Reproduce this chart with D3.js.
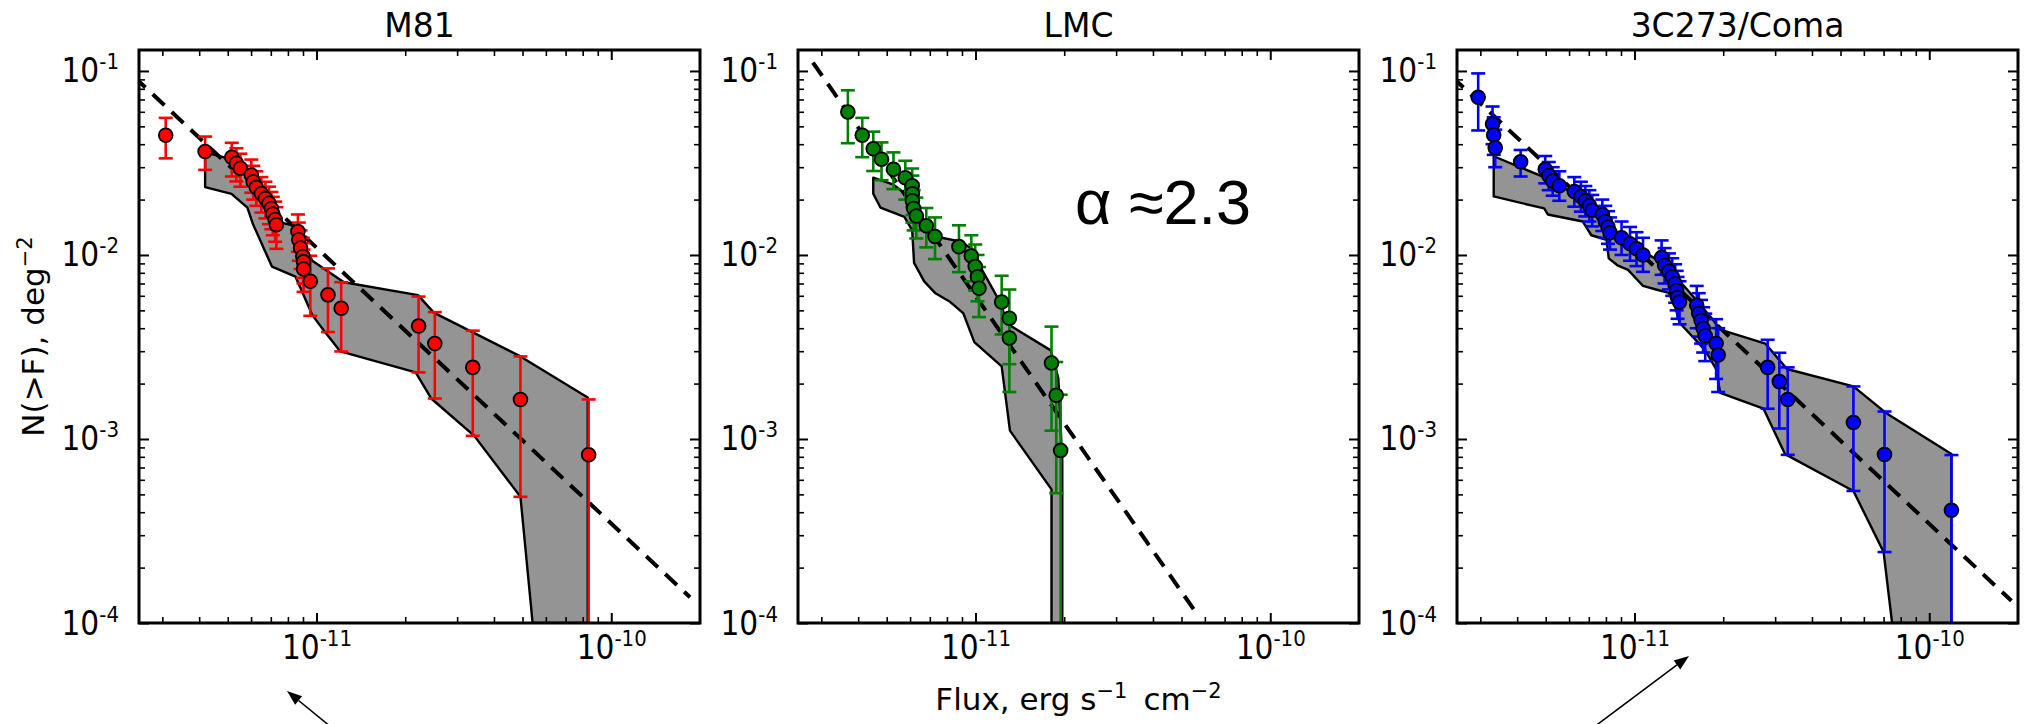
<!DOCTYPE html>
<html>
<head>
<meta charset="utf-8">
<script src="https://cdn.jsdelivr.net/npm/d3@7"></script>
<style>
  html, body { margin: 0; padding: 0; background: #fff; }
  svg { display: block; }
  text { font-family: "DejaVu Sans", sans-serif; fill: #000; }
  .tick text { font-family: "DejaVu Sans Condensed", "DejaVu Sans", sans-serif; }
</style>
</head>
<body>
<svg id="chart" width="2031" height="724"></svg>
<script>
// ---------------- data ----------------
const titles = ["M81", "LMC", "3C273/Coma"];
const colors = ["#ff0000", "#008000", "#0000ff"];
const xLabel = "Flux, erg s";
const yLabel = "N(>F), deg";
const slopeNote = "\u03b1 \u22482.3";

// M81: cumulative counts with 1-sigma bounds
const fluxM81 = [3.08e-12, 4.19e-12, 5.16e-12, 5.35e-12, 5.52e-12, 6.01e-12, 6.10e-12, 6.25e-12, 6.50e-12, 6.71e-12,
  6.90e-12, 7.03e-12, 7.11e-12, 7.24e-12, 7.31e-12, 8.65e-12, 8.71e-12, 8.83e-12, 8.99e-12, 9.04e-12,
  9.04e-12, 9.53e-12, 1.094e-11, 1.213e-11, 2.22e-11, 2.52e-11, 3.39e-11, 4.92e-11, 8.38e-11];
const nM81 = [4.47e-2, 3.65e-2, 3.40e-2, 3.15e-2, 2.96e-2, 2.72e-2, 2.50e-2, 2.33e-2, 2.16e-2, 2.03e-2,
  1.91e-2, 1.79e-2, 1.67e-2, 1.56e-2, 1.46e-2, 1.34e-2, 1.21e-2, 1.09e-2, 9.8e-3, 9.2e-3,
  8.4e-3, 7.2e-3, 6.07e-3, 5.13e-3, 4.11e-3, 3.30e-3, 2.45e-3, 1.64e-3, 8.2e-4];
const nM81Hi = [5.56e-2, 4.40e-2, 4.07e-2, 3.80e-2, 3.55e-2, 3.30e-2, 3.05e-2, 2.85e-2, 2.65e-2, 2.50e-2,
  2.35e-2, 2.20e-2, 2.07e-2, 1.95e-2, 1.82e-2, 1.66e-2, 1.50e-2, 1.36e-2, 1.24e-2, 1.16e-2,
  1.07e-2, 9.9e-3, 8.45e-3, 7.11e-3, 5.94e-3, 4.89e-3, 3.88e-3, 2.81e-3, 1.64e-3];
const nM81Lo = [3.35e-2, 2.90e-2, 2.67e-2, 2.51e-2, 2.35e-2, 2.18e-2, 2.00e-2, 1.85e-2, 1.70e-2, 1.58e-2,
  1.47e-2, 1.38e-2, 1.28e-2, 1.18e-2, 1.08e-2, 1.04e-2, 9.3e-3, 8.4e-3, 7.5e-3, 7.0e-3,
  6.3e-3, 4.67e-3, 3.81e-3, 2.99e-3, 2.30e-3, 1.66e-3, 1.04e-3, 4.85e-4, 0];
const bandM81UpFlux = [4.19e-12, 5.15e-12, 5.93e-12, 6.59e-12, 7.33e-12, 8.43e-12, 9.68e-12, 1.239e-11, 2.21e-11, 2.50e-11, 4.92e-11, 8.32e-11, 8.32e-11];
const bandM81UpN = [3.61e-2, 3.31e-2, 2.79e-2, 2.15e-2, 1.52e-2, 1.44e-2, 9.31e-3, 7.11e-3, 6.05e-3, 4.86e-3, 2.81e-3, 1.68e-3, 1.0e-4];
const bandM81LoFlux = [4.19e-12, 5.15e-12, 5.83e-12, 6.08e-12, 7.06e-12, 8.49e-12, 9.68e-12, 1.040e-11, 1.205e-11, 2.17e-11, 2.45e-11, 3.43e-11, 4.92e-11, 5.41e-11];
const bandM81LoN = [2.34e-2, 2.15e-2, 1.81e-2, 1.48e-2, 8.65e-3, 7.62e-3, 4.72e-3, 4.04e-3, 2.99e-3, 2.30e-3, 1.66e-3, 1.04e-3, 4.85e-4, 1.0e-4];
const lineM81Flux = [2.4e-12, 1.85e-10];
const lineM81N = [9.33e-2, 1.38e-4];

// LMC
const fluxLMC = [3.69e-12, 4.13e-12, 4.50e-12, 4.80e-12, 5.27e-12, 5.78e-12, 6.10e-12, 6.11e-12, 6.11e-12, 6.17e-12,
  6.30e-12, 6.81e-12, 7.29e-12, 8.79e-12, 9.68e-12, 9.98e-12, 1.016e-11, 1.028e-11, 1.227e-11, 1.303e-11,
  1.303e-11, 1.811e-11, 1.879e-11, 1.945e-11];
const nLMC = [5.98e-2, 4.47e-2, 3.78e-2, 3.31e-2, 2.92e-2, 2.63e-2, 2.38e-2, 2.15e-2, 1.97e-2, 1.79e-2,
  1.63e-2, 1.44e-2, 1.26e-2, 1.11e-2, 9.86e-3, 8.65e-3, 7.62e-3, 6.59e-3, 5.55e-3, 4.53e-3,
  3.54e-3, 2.59e-3, 1.73e-3, 8.67e-4];
const nLMCHi = [7.85e-2, 5.56e-2, 4.68e-2, 4.09e-2, 3.61e-2, 3.25e-2, 2.95e-2, 2.70e-2, 2.45e-2, 2.25e-2,
  2.05e-2, 1.80e-2, 1.60e-2, 1.45e-2, 1.28e-2, 1.14e-2, 1.00e-2, 8.6e-3, 7.71e-3, 6.49e-3,
  4.67e-3, 4.08e-3, 2.62e-3, 1.74e-3];
const nLMCLo = [4.05e-2, 3.40e-2, 2.86e-2, 2.55e-2, 2.28e-2, 2.00e-2, 1.82e-2, 1.65e-2, 1.50e-2, 1.36e-2,
  1.23e-2, 1.10e-2, 9.5e-3, 8.07e-3, 7.19e-3, 6.4e-3, 5.6e-3, 4.6e-3, 3.7e-3, 2.55e-3,
  1.80e-3, 1.11e-3, 5.08e-4, 0];
const bandLMCUpFlux = [4.50e-12, 5.27e-12, 5.78e-12, 6.25e-12, 7.29e-12, 8.79e-12, 9.75e-12, 1.042e-11, 1.175e-11, 1.303e-11, 1.80e-11, 1.91e-11, 1.97e-11, 1.97e-11];
const bandLMCUpN = [2.63e-2, 2.41e-2, 2.15e-2, 1.61e-2, 1.26e-2, 1.19e-2, 1.08e-2, 8.55e-3, 6.05e-3, 4.16e-3, 3.03e-3, 2.14e-3, 7.60e-4, 1.0e-4];
const bandLMCLoFlux = [4.50e-12, 4.76e-12, 5.74e-12, 6.10e-12, 6.19e-12, 6.70e-12, 7.29e-12, 8.22e-12, 9.10e-12, 9.91e-12, 1.227e-11, 1.309e-11, 1.811e-11, 1.811e-11];
const bandLMCLoN = [2.15e-2, 1.81e-2, 1.61e-2, 1.36e-2, 9.06e-3, 7.19e-3, 6.22e-3, 5.55e-3, 4.81e-3, 3.36e-3, 2.48e-3, 1.11e-3, 5.32e-4, 1.0e-4];
const lineLMCFlux = [2.81e-12, 5.64e-11];
const lineLMCN = [1.11e-1, 1.12e-4];

// 3C273/Coma
const fluxComa = [2.95e-12, 3.30e-12, 3.33e-12, 3.37e-12, 4.11e-12, 4.98e-12, 5.12e-12, 5.28e-12, 5.56e-12, 6.25e-12,
  6.58e-12, 6.81e-12, 7.03e-12, 7.19e-12, 7.78e-12, 7.96e-12, 8.13e-12, 8.26e-12, 9.04e-12, 9.66e-12,
  1.016e-11, 1.069e-11, 1.236e-11, 1.265e-11, 1.309e-11, 1.343e-11, 1.374e-11, 1.390e-11, 1.400e-11, 1.422e-11,
  1.626e-11, 1.652e-11, 1.683e-11, 1.710e-11, 1.738e-11, 1.892e-11, 1.923e-11, 2.83e-11, 3.10e-11, 3.31e-11,
  5.53e-11, 7.05e-11, 1.189e-10];
const nComa = [7.19e-2, 5.15e-2, 4.49e-2, 3.82e-2, 3.21e-2, 2.92e-2, 2.70e-2, 2.52e-2, 2.38e-2, 2.21e-2,
  2.08e-2, 1.97e-2, 1.86e-2, 1.75e-2, 1.66e-2, 1.52e-2, 1.42e-2, 1.32e-2, 1.24e-2, 1.15e-2,
  1.08e-2, 1.00e-2, 9.7e-3, 8.79e-3, 8.17e-3, 7.62e-3, 6.98e-3, 6.41e-3, 5.87e-3, 5.55e-3,
  5.33e-3, 4.81e-3, 4.41e-3, 3.99e-3, 3.64e-3, 3.30e-3, 2.86e-3, 2.45e-3, 2.05e-3, 1.64e-3,
  1.23e-3, 8.24e-4, 4.10e-4];
const nComaHi = [9.70e-2, 6.41e-2, 5.6e-2, 4.8e-2, 3.72e-2, 3.45e-2, 3.2e-2, 3.0e-2, 2.85e-2, 2.65e-2,
  2.5e-2, 2.37e-2, 2.25e-2, 2.12e-2, 2.0e-2, 1.85e-2, 1.73e-2, 1.6e-2, 1.52e-2, 1.42e-2,
  1.33e-2, 1.24e-2, 1.2e-2, 1.09e-2, 1.02e-2, 9.6e-3, 8.9e-3, 8.2e-3, 7.6e-3, 7.2e-3,
  6.79e-3, 6.2e-3, 5.7e-3, 5.2e-3, 4.8e-3, 4.48e-3, 4.0e-3, 3.46e-3, 2.94e-3, 2.45e-3,
  1.93e-3, 1.41e-3, 8.18e-4];
const nComaLo = [4.75e-2, 4.0e-2, 3.5e-2, 3.0e-2, 2.67e-2, 2.45e-2, 2.25e-2, 2.1e-2, 1.97e-2, 1.83e-2,
  1.72e-2, 1.62e-2, 1.52e-2, 1.43e-2, 1.35e-2, 1.24e-2, 1.15e-2, 1.07e-2, 1.0e-2, 9.3e-3,
  8.7e-3, 8.1e-3, 7.8e-3, 7.0e-3, 6.5e-3, 6.0e-3, 5.5e-3, 5.0e-3, 4.5e-3, 4.2e-3,
  4.0e-3, 3.6e-3, 3.3e-3, 2.95e-3, 2.65e-3, 2.12e-3, 1.80e-3, 1.46e-3, 1.14e-3, 8.2e-4,
  5.22e-4, 2.43e-4, 0];
const bandComaUpFlux = [3.33e-12, 4.98e-12, 6.25e-12, 7.28e-12, 8.13e-12, 8.75e-12, 1.069e-11, 1.245e-11, 1.496e-11, 1.828e-11, 1.954e-11, 2.78e-11, 3.29e-11, 5.53e-11, 7.11e-11, 1.189e-10, 1.189e-10];
const bandComaUpN = [3.44e-2, 2.63e-2, 2.15e-2, 1.75e-2, 1.61e-2, 1.17e-2, 1.045e-2, 9.06e-3, 6.59e-3, 4.53e-3, 3.93e-3, 3.30e-3, 2.40e-3, 1.93e-3, 1.39e-3, 8.28e-4, 1.0e-4];
const bandComaLoFlux = [3.33e-12, 4.94e-12, 5.08e-12, 6.68e-12, 7.14e-12, 8.04e-12, 8.18e-12, 8.75e-12, 9.51e-12, 1.016e-11, 1.069e-11, 1.183e-11, 1.309e-11, 1.374e-11, 1.422e-11, 1.574e-11, 1.738e-11, 1.892e-11, 1.954e-11, 2.74e-11, 3.24e-11, 5.53e-11, 7.00e-11, 7.48e-11];
const bandComaLoN = [2.08e-2, 1.79e-2, 1.66e-2, 1.52e-2, 1.28e-2, 1.21e-2, 9.59e-3, 8.79e-3, 8.30e-3, 7.40e-3, 6.79e-3, 6.49e-3, 6.22e-3, 5.24e-3, 4.28e-3, 3.60e-3, 3.03e-3, 2.40e-3, 1.78e-3, 1.46e-3, 8.28e-4, 5.22e-4, 2.43e-4, 1.0e-4];
const lineComaFlux = [2.4e-12, 1.9e-10];
const lineComaN = [9.33e-2, 1.32e-4];

// shared axis limits
const xDomain = [2.5e-12, 2e-10];
const yDomain = [1e-4, 0.13];

// ---------------- layout ----------------
const panelLeft = [139, 798, 1457];
const panelW = 561;
const plotTop = 50, plotBottom = 623;
const bandFill = "#949494";

const panels = [
  { title: titles[0], color: colors[0], flux: fluxM81, n: nM81, hi: nM81Hi, lo: nM81Lo,
    upF: bandM81UpFlux, upN: bandM81UpN, loF: bandM81LoFlux, loN: bandM81LoN, lf: lineM81Flux, ln: lineM81N },
  { title: titles[1], color: colors[1], flux: fluxLMC, n: nLMC, hi: nLMCHi, lo: nLMCLo,
    upF: bandLMCUpFlux, upN: bandLMCUpN, loF: bandLMCLoFlux, loN: bandLMCLoN, lf: lineLMCFlux, ln: lineLMCN },
  { title: titles[2], color: colors[2], flux: fluxComa, n: nComa, hi: nComaHi, lo: nComaLo,
    upF: bandComaUpFlux, upN: bandComaUpN, loF: bandComaLoFlux, loN: bandComaLoN, lf: lineComaFlux, ln: lineComaN }
];

const svg = d3.select("#chart");
const defs = svg.append("defs");

const isMajor = v => Math.abs(Math.log10(v) - Math.round(Math.log10(v))) < 1e-6;

// "10" with a raised exponent
function powerLabel(text, v, supDy, supSize) {
  const e = Math.round(Math.log10(v));
  text.text(null);
  text.append("tspan").text("10");
  text.append("tspan").attr("dy", supDy).attr("font-size", supSize).text(String(e));
}

function styleAxis(g, width) {
  g.attr("font-family", null).attr("font-size", null);
  g.select(".domain").remove();
  g.selectAll(".tick line").attr("stroke", "#000").attr("stroke-width", width);
}

panels.forEach((p, i) => {
  const left = panelLeft[i];
  const x = d3.scaleLog().domain(xDomain).range([left, left + panelW]);
  const y = d3.scaleLog().domain(yDomain).range([plotBottom, plotTop]);

  const clipId = "clip" + i;
  defs.append("clipPath").attr("id", clipId)
    .append("rect").attr("x", left).attr("y", plotTop).attr("width", panelW).attr("height", plotBottom - plotTop);

  const g = svg.append("g");
  const plot = g.append("g").attr("clip-path", `url(#${clipId})`);

  // shaded band between the two bounding curves
  const upper = p.upF.map((f, k) => [f, p.upN[k]]);
  const lower = p.loF.map((f, k) => [f, p.loN[k]]);
  const poly = upper.concat(lower.slice().reverse());
  const line = d3.line().x(d => x(d[0])).y(d => y(d[1]));
  plot.append("path")
    .attr("d", line(poly) + "Z")
    .attr("fill", bandFill)
    .attr("stroke", "#000")
    .attr("stroke-width", 2.4)
    .attr("stroke-linejoin", "round");

  // power-law reference line
  plot.append("path")
    .attr("d", line(p.lf.map((f, k) => [f, p.ln[k]])))
    .attr("fill", "none")
    .attr("stroke", "#000")
    .attr("stroke-width", 4)
    .attr("stroke-dasharray", "16,10");

  // error bars
  const pts = p.flux.map((f, k) => ({ f, n: p.n[k], hi: p.hi[k], lo: p.lo[k] }));
  const eb = plot.append("g").attr("stroke", p.color).attr("stroke-width", 2.6);
  pts.forEach(d => {
    const xx = x(d.f);
    const yHi = y(d.hi);
    const yLo = d.lo > 0 ? y(d.lo) : plotBottom + 10;
    eb.append("line").attr("x1", xx).attr("x2", xx).attr("y1", yHi).attr("y2", yLo);
    eb.append("line").attr("x1", xx - 7).attr("x2", xx + 7).attr("y1", yHi).attr("y2", yHi);
    if (d.lo > 0) eb.append("line").attr("x1", xx - 7).attr("x2", xx + 7).attr("y1", yLo).attr("y2", yLo);
  });

  // markers
  plot.append("g").selectAll("circle").data(pts).join("circle")
    .attr("cx", d => x(d.f)).attr("cy", d => y(d.n)).attr("r", 6.9)
    .attr("fill", p.color).attr("stroke", "#000").attr("stroke-width", 1.8);

  // ticks on all four sides, pointing inward
  const xt = x.ticks(), yt = y.ticks();
  const xMaj = xt.filter(isMajor), xMin = xt.filter(v => !isMajor(v) && v > xDomain[0] && v < xDomain[1]);
  const yMaj = yt.filter(isMajor), yMin = yt.filter(v => !isMajor(v));

  const bottomAx = g.append("g").attr("transform", `translate(0,${plotBottom})`)
    .call(d3.axisBottom(x).tickValues(xMaj).tickSize(-10));
  styleAxis(bottomAx, 2);
  bottomAx.selectAll(".tick text")
    .attr("y", 36).attr("dy", 0).attr("font-size", 33)
    .each(function (v) { powerLabel(d3.select(this), v, -13, 22); });
  g.append("g").attr("transform", `translate(0,${plotBottom})`)
    .call(d3.axisBottom(x).tickValues(xMin).tickSize(-6).tickFormat(""))
    .call(s => styleAxis(s, 1.6));

  const topAx = g.append("g").attr("transform", `translate(0,${plotTop})`)
    .call(d3.axisTop(x).tickValues(xMaj).tickSize(-10).tickFormat(""));
  styleAxis(topAx, 2);
  g.append("g").attr("transform", `translate(0,${plotTop})`)
    .call(d3.axisTop(x).tickValues(xMin).tickSize(-6).tickFormat(""))
    .call(s => styleAxis(s, 1.6));

  const leftAx = g.append("g").attr("transform", `translate(${left},0)`)
    .call(d3.axisLeft(y).tickValues(yMaj).tickSize(-10));
  styleAxis(leftAx, 2);
  leftAx.selectAll(".tick text")
    .attr("x", -20).attr("dy", 11).attr("font-size", 33).attr("text-anchor", "end")
    .each(function (v) { powerLabel(d3.select(this), v, -13, 22); });
  g.append("g").attr("transform", `translate(${left},0)`)
    .call(d3.axisLeft(y).tickValues(yMin).tickSize(-6).tickFormat(""))
    .call(s => styleAxis(s, 1.6));

  const rightAx = g.append("g").attr("transform", `translate(${left + panelW},0)`)
    .call(d3.axisRight(y).tickValues(yMaj).tickSize(-10).tickFormat(""));
  styleAxis(rightAx, 2);
  g.append("g").attr("transform", `translate(${left + panelW},0)`)
    .call(d3.axisRight(y).tickValues(yMin).tickSize(-6).tickFormat(""))
    .call(s => styleAxis(s, 1.6));

  // frame
  g.append("rect")
    .attr("x", left).attr("y", plotTop)
    .attr("width", panelW).attr("height", plotBottom - plotTop)
    .attr("fill", "none").attr("stroke", "#000").attr("stroke-width", 3);

  // title
  g.append("text")
    .attr("x", left + panelW / 2).attr("y", 37)
    .attr("text-anchor", "middle").attr("font-size", 33)
    .text(p.title);
});

// slope annotation in the LMC panel
svg.append("text")
  .attr("x", 1075).attr("y", 224)
  .style("font-family", "'Liberation Sans', Arial, sans-serif")
  .attr("font-size", 63)
  .text(slopeNote);

// x-axis label under the middle panel
const xl = svg.append("text")
  .attr("x", panelLeft[1] + panelW / 2).attr("y", 710)
  .attr("text-anchor", "middle").attr("font-size", 31);
xl.append("tspan").text(xLabel);
xl.append("tspan").attr("dy", -12).attr("font-size", 21).text("\u22121");
xl.append("tspan").attr("dy", 12).text("\u2009 cm");
xl.append("tspan").attr("dy", -12).attr("font-size", 21).text("\u22122");

// y-axis label
const yl = svg.append("text")
  .attr("transform", `translate(44,${(plotTop + plotBottom) / 2}) rotate(-90)`)
  .attr("text-anchor", "middle").attr("font-size", 31);
yl.append("tspan").text(yLabel);
yl.append("tspan").attr("dy", -12).attr("font-size", 21).text("\u22122");

// pointer arrows below the outer panels
const arrows = [
  { from: [331, 727], to: [287, 691] },
  { from: [1594, 727], to: [1689, 656] }
];
arrows.forEach(a => {
  const dx = a.to[0] - a.from[0], dy = a.to[1] - a.from[1];
  const len = Math.hypot(dx, dy), ux = dx / len, uy = dy / len;
  const headL = 15, headW = 5.5;
  const bx = a.to[0] - ux * headL, by = a.to[1] - uy * headL;
  svg.append("line")
    .attr("x1", a.from[0]).attr("y1", a.from[1]).attr("x2", bx).attr("y2", by)
    .attr("stroke", "#000").attr("stroke-width", 1.6);
  svg.append("path")
    .attr("d", d3.line()([[a.to[0], a.to[1]], [bx - uy * headW, by + ux * headW], [bx + uy * headW, by - ux * headW]]) + "Z")
    .attr("fill", "#000");
});
</script>
</body>
</html>
